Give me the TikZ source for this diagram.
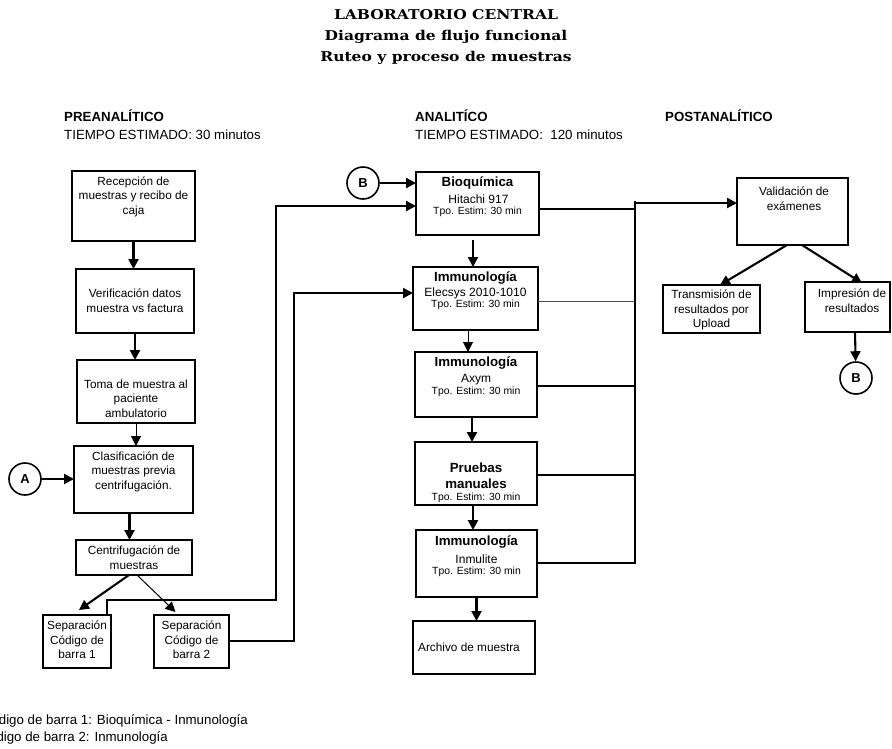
\documentclass[tikz,border=0pt]{standalone}
\usepackage{fontspec}
\setmainfont{Liberation Sans}
\newfontfamily\titlefont[FakeStretch=1.15]{DejaVu Serif}
\usetikzlibrary{arrows.meta}

\tikzset{
  box/.style={draw, line width=2.1pt, inner sep=0pt, outer sep=0pt},
  txt/.style={font=\fontsize{11.8}{14.5}\selectfont, align=center, inner sep=0pt},
  head/.style={font=\fontsize{13.3}{15}\selectfont\bfseries, anchor=west, inner sep=0pt},
  sub/.style={font=\fontsize{13.3}{15}\selectfont, anchor=west, inner sep=0pt},
  ttl/.style={font=\titlefont\fontsize{13.5}{16}\selectfont\bfseries, inner sep=0pt},
  lbold/.style={font=\fontsize{13.3}{15}\selectfont\bfseries, inner sep=0pt},
  ldev/.style={font=\fontsize{12}{14}\selectfont, inner sep=0pt},
  ltpo/.style={font=\fontsize{10.4}{12}\selectfont, inner sep=0pt},
  conn/.style={line width=2.1pt, -{Triangle[length=10pt,width=10pt]}},
  thinconn/.style={line width=1pt, -{Triangle[length=10pt,width=10pt]}},
  bus/.style={line width=2.1pt},
  thinbus/.style={line width=0.8pt, black!70},
  circ/.style={draw, circle, line width=1.6pt, minimum size=32pt, inner sep=0pt,
    font=\fontsize{13}{15}\selectfont\bfseries},
  note/.style={font=\fontsize{13.3}{15}\selectfont, anchor=east, inner sep=0pt}
}

\begin{document}
\begin{tikzpicture}[x=1pt, y=-1pt]
\useasboundingbox (0,0) rectangle (892,748);

% ---- title ----
\node[ttl] (t1) at (446,15) {LABORATORIO CENTRAL};
\node[ttl] (t2) at (446,37) {Diagrama de flujo funcional};
\node[ttl] (t3) at (446,58) {Ruteo y proceso de muestras};

% ---- phase headings ----
\node[head] (hpre) at (64,116) {PREANALÍTICO};
\node[sub]  (spre) at (64,135) {TIEMPO ESTIMADO: 30 minutos};
\node[head] (hana) at (415,116) {ANALITÍCO};
\node[sub]  (sana) at (415,135) {TIEMPO ESTIMADO:\ \ 120 minutos};
\node[head] (hpost) at (665,116) {POSTANALÍTICO};

% ---- pre-analytic column ----
\node[box, minimum width=123, minimum height=70] (recep)  at (133.5,206) {};
\node[txt] (recep-t) at (133.5,196.5) {Recepción de\\muestras y recibo de\\caja};
\node[box, minimum width=118, minimum height=64] (verif)  at (135,301) {};
\node[txt] (verif-t) at (135,300.5) {Verificación datos\\muestra vs factura};
\node[box, minimum width=118, minimum height=63] (toma)   at (136,391.5) {};
\node[txt] (toma-t) at (136,398.5) {Toma de muestra al\\paciente\\ambulatorio};
\node[box, minimum width=119, minimum height=67] (clasif) at (133.5,479.5) {};
\node[txt] (clasif-t) at (133.5,471.5) {Clasificación de\\muestras previa\\centrifugación.};
\node[box, minimum width=116, minimum height=35] (centri) at (134,557.5) {};
\node[txt] (centri-t) at (134,557.5) {Centrifugación de\\muestras};
\node[box, minimum width=68, minimum height=53] (sep1) at (77,641.5) {};
\node[txt] (sep1-t) at (77,640) {Separación\\Código de\\barra 1};
\node[box, minimum width=75, minimum height=53] (sep2) at (191.5,641.5) {};
\node[txt] (sep2-t) at (191.5,640) {Separación\\Código de\\barra 2};
\node[circ] (A) at (25,479) {A};

% ---- analytic column ----
\node[box, minimum width=123, minimum height=63] (bioq) at (477.5,203.5) {};
\node[lbold] (bioq-a) at (477.5,183) {Bioquímica};
\node[ldev]  (bioq-b) at (478.5,199) {Hitachi 917};
\node[ltpo]  (bioq-c) at (477.5,212) {Tpo. Estim: 30 min};

\node[box, minimum width=125, minimum height=63] (elec) at (475.5,298.5) {};
\node[lbold] (elec-a) at (475.5,278) {Immunología};
\node[ldev]  (elec-b) at (475.5,293) {Elecsys 2010-1010};
\node[ltpo]  (elec-c) at (475.5,305) {Tpo. Estim: 30 min};

\node[box, minimum width=122, minimum height=65] (axym) at (476,384.5) {};
\node[lbold] (axym-a) at (476,363) {Immunología};
\node[ldev]  (axym-b) at (476,380) {Axym};
\node[ltpo]  (axym-c) at (476,392) {Tpo. Estim: 30 min};

\node[box, minimum width=122, minimum height=63] (prueb) at (476,473.5) {};
\node[lbold] (prueb-a) at (476,468) {Pruebas};
\node[lbold] (prueb-b) at (476,484) {manuales};
\node[ltpo]  (prueb-c) at (476,498) {Tpo. Estim: 30 min};

\node[box, minimum width=121, minimum height=67] (inmul) at (476.5,563.5) {};
\node[lbold] (inmul-a) at (476.5,542) {Immunología};
\node[ldev]  (inmul-b) at (476.5,559) {Inmulite};
\node[ltpo]  (inmul-c) at (476.5,572) {Tpo. Estim: 30 min};

\node[box, minimum width=122, minimum height=53] (archiv) at (474,647.5) {};
\node[txt] (archiv-t) at (469,647) {Archivo de muestra};

\node[circ] (B1) at (363,183) {B};

% ---- post-analytic column ----
\node[box, minimum width=111, minimum height=67] (valid) at (792.5,211.5) {};
\node[txt] (valid-t) at (794,198.5) {Validación de\\exámenes};
\node[box, minimum width=97, minimum height=48] (transm) at (711.5,309) {};
\node[txt] (transm-t) at (711.5,310) {Transmisión de\\resultados por\\Upload};
\node[box, minimum width=85, minimum height=50] (impr) at (847.5,307) {};
\node[txt] (impr-t) at (852,300.5) {Impresión de\\resultados};
\node[circ] (B2) at (856,378) {B};

% ---- bus collecting the analytic results ----
\coordinate (bustop) at (635,201);
\coordinate (busbot) at (635,563);

% ---- connectors: pre-analytic ----
\draw[conn] (recep.south) -- (recep.south |- verif.north);
\draw[conn] (verif.south) -- (verif.south |- toma.north);
\draw[thinconn] (toma.south) -- (toma.south |- clasif.north);
\draw[conn] ([xshift=-4pt]clasif.south) -- ([xshift=-4pt]clasif.south |- centri.north);
\draw[conn] (A) -- (A -| clasif.west);
\draw[conn] ([xshift=-5pt]centri.south) -- ([xshift=2pt,yshift=5pt]sep1.north);
\draw[thinconn] ([xshift=3pt]centri.south) -- ([xshift=-16pt,yshift=3pt]sep2.north);

% ---- barcode routes into the analytic column ----
\draw[conn] ([xshift=-4pt]sep1.north east) -- ++(0,-15) -| (276,206) -- (bioq.west |- 0,206);
\draw[conn] (sep2.east |- 0,641) -| (294,293) -- (elec.west |- 0,293);
\draw[conn] (B1) -- (B1 -| bioq.west);

% ---- connectors: analytic ----
\draw[conn] ([xshift=-4.5pt,yshift=-5pt]bioq.south) -- ([xshift=-2.5pt]elec.north);
\draw[thinconn] ([xshift=-7.5pt]elec.south) -- ([xshift=-8pt]axym.north);
\draw[conn] ([xshift=-4pt]axym.south) -- ([xshift=-4pt]prueb.north);
\draw[conn] ([xshift=-3pt]prueb.south) -- ([xshift=-3.5pt]inmul.north);
\draw[conn] (inmul.south) -- ([xshift=2.5pt]archiv.north);

% ---- result bus ----
\draw[bus] (bioq.east |- 0,209) -- (635,209);
\draw[thinbus] (elec.east |- 0,301) -- (635,301);
\draw[bus] (axym.east |- 0,386) -- (635,386);
\draw[bus] (prueb.east |- 0,475) -- (635,475);
\draw[bus] (inmul.east |- 0,563) -- (busbot) -- (bustop);
\draw[conn] ([yshift=-2pt]bustop) -- (valid.west |- 0,203);

% ---- connectors: post-analytic ----
\draw[conn] ([xshift=-5.5pt]valid.south) -- ([xshift=8.5pt]transm.north);
\draw[conn] ([xshift=9.5pt]valid.south) -- ([xshift=14.5pt,yshift=-1pt]impr.north);
\draw[conn] ([xshift=7.5pt]impr.south) -- (B2);

% ---- footnotes ----
\node[note] (n1) at (248,721) {Código de barra 1: Bioquímica - Inmunología};
\node[note] (n2) at (168,738) {Código de barra 2: Inmunología};
\end{tikzpicture}
\end{document}
